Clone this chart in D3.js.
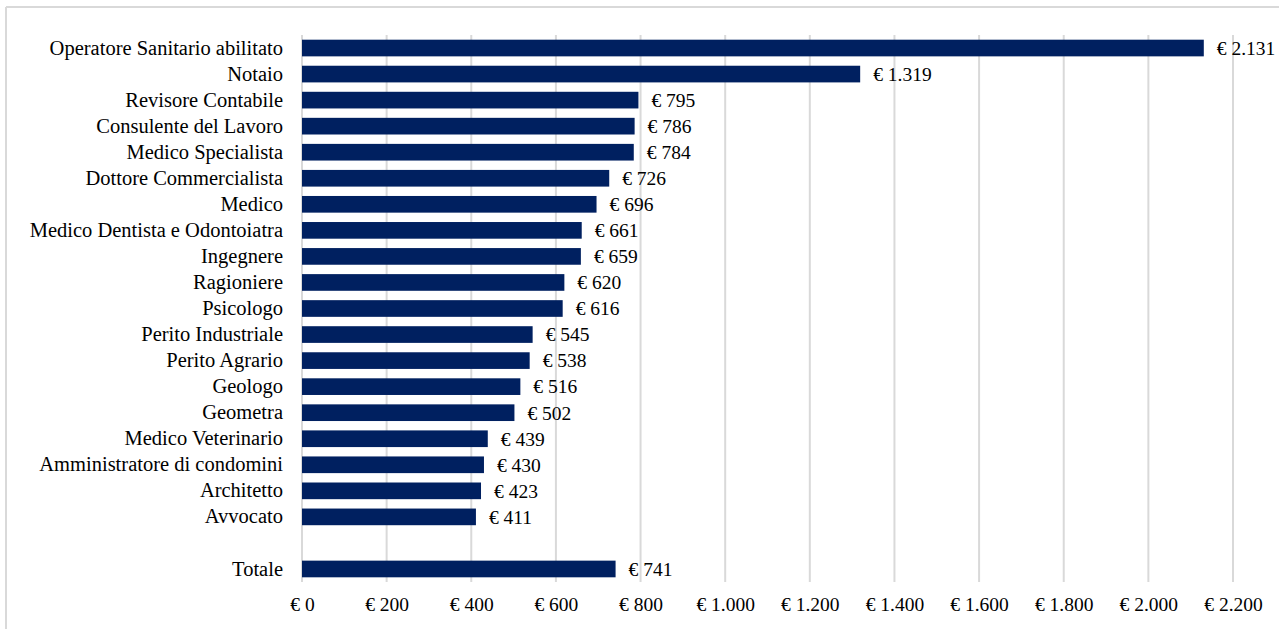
<!DOCTYPE html>
<html>
<head>
<meta charset="utf-8">
<script src="https://cdn.jsdelivr.net/npm/d3@7"></script>
<style>
    body { margin: 0; background: #fff; }
    svg text { font-family: "Liberation Serif", "DejaVu Serif", serif; fill: #000; }
</style>
</head>
<body>
<svg id="chart" width="1279" height="629"></svg>
<script>
// categories, top to bottom ("" is the empty gap row before Totale)
const categories = [
    "Operatore Sanitario abilitato", "Notaio", "Revisore Contabile", "Consulente del Lavoro",
    "Medico Specialista", "Dottore Commercialista", "Medico", "Medico Dentista e Odontoiatra",
    "Ingegnere", "Ragioniere", "Psicologo", "Perito Industriale", "Perito Agrario", "Geologo",
    "Geometra", "Medico Veterinario", "Amministratore di condomini", "Architetto", "Avvocato",
    "", "Totale"
];
const values = [2131, 1319, 795, 786, 784, 726, 696, 661, 659, 620, 616, 545, 538, 516, 502, 439, 430, 423, 411, null, 741];
const xTicks = [0, 200, 400, 600, 800, 1000, 1200, 1400, 1600, 1800, 2000, 2200];

const WIDTH = 1279;
const HEIGHT = 629;
const margin = {top: 35, left: 302, right: 46, bottom: 47};
const FONT = "19.5px";

const locale = d3.formatLocale({decimal: ",", thousands: ".", grouping: [3], currency: ["€ ", ""]});
const euro = locale.format("$,.0f");

const svg = d3.select("#chart");

// outer frame (only top and left edges show)
svg.append("line").attr("x1", 6).attr("x2", WIDTH).attr("y1", 7).attr("y2", 7)
    .attr("stroke", "#d9d9d9").attr("stroke-width", 2);
svg.append("line").attr("x1", 6).attr("x2", 6).attr("y1", 7).attr("y2", HEIGHT)
    .attr("stroke", "#d9d9d9").attr("stroke-width", 2);

const x = d3.scaleLinear()
    .domain([0, 2200])
    .range([margin.left, WIDTH - margin.right]);

const rows = categories.map((c, i) => ({key: i, label: c, value: values[i]}));

const y = d3.scaleBand()
    .domain(rows.map(d => d.key))
    .range([margin.top, HEIGHT - margin.bottom])
    .paddingInner(0.36)
    .paddingOuter(0.18);

// gridlines
svg.append("g")
    .selectAll("line")
    .data(xTicks)
    .join("line")
        .attr("x1", d => x(d)).attr("x2", d => x(d))
        .attr("y1", margin.top).attr("y2", HEIGHT - margin.bottom)
        .attr("stroke", "#d9d9d9").attr("stroke-width", 2);

// x axis labels
const xAxis = svg.append("g")
    .attr("transform", "translate(0," + (HEIGHT - margin.bottom) + ")")
    .call(d3.axisBottom(x).tickValues(xTicks).tickFormat(euro).tickSize(0).tickPadding(15));
xAxis.select(".domain").remove();
xAxis.selectAll("text").style("font-size", FONT);

// category labels
const yAxis = svg.append("g")
    .attr("transform", "translate(" + margin.left + ",0)")
    .call(d3.axisLeft(y).tickFormat(k => categories[k]).tickSize(0).tickPadding(19));
yAxis.select(".domain").remove();
yAxis.selectAll("text").style("font-size", "20.5px");

const data = rows.filter(d => d.value != null);

svg.append("g")
    .selectAll("rect")
    .data(data)
    .join("rect")
        .attr("x", x(0))
        .attr("y", d => y(d.key))
        .attr("width", d => x(d.value) - x(0))
        .attr("height", y.bandwidth())
        .attr("fill", "#002060");

svg.append("g")
    .selectAll("text")
    .data(data)
    .join("text")
        .attr("x", d => x(d.value) + 13)
        .attr("y", d => y(d.key) + y.bandwidth() / 2)
        .attr("dy", "0.35em")
        .style("font-size", FONT)
        .text(d => euro(d.value));
</script>
</body>
</html>
